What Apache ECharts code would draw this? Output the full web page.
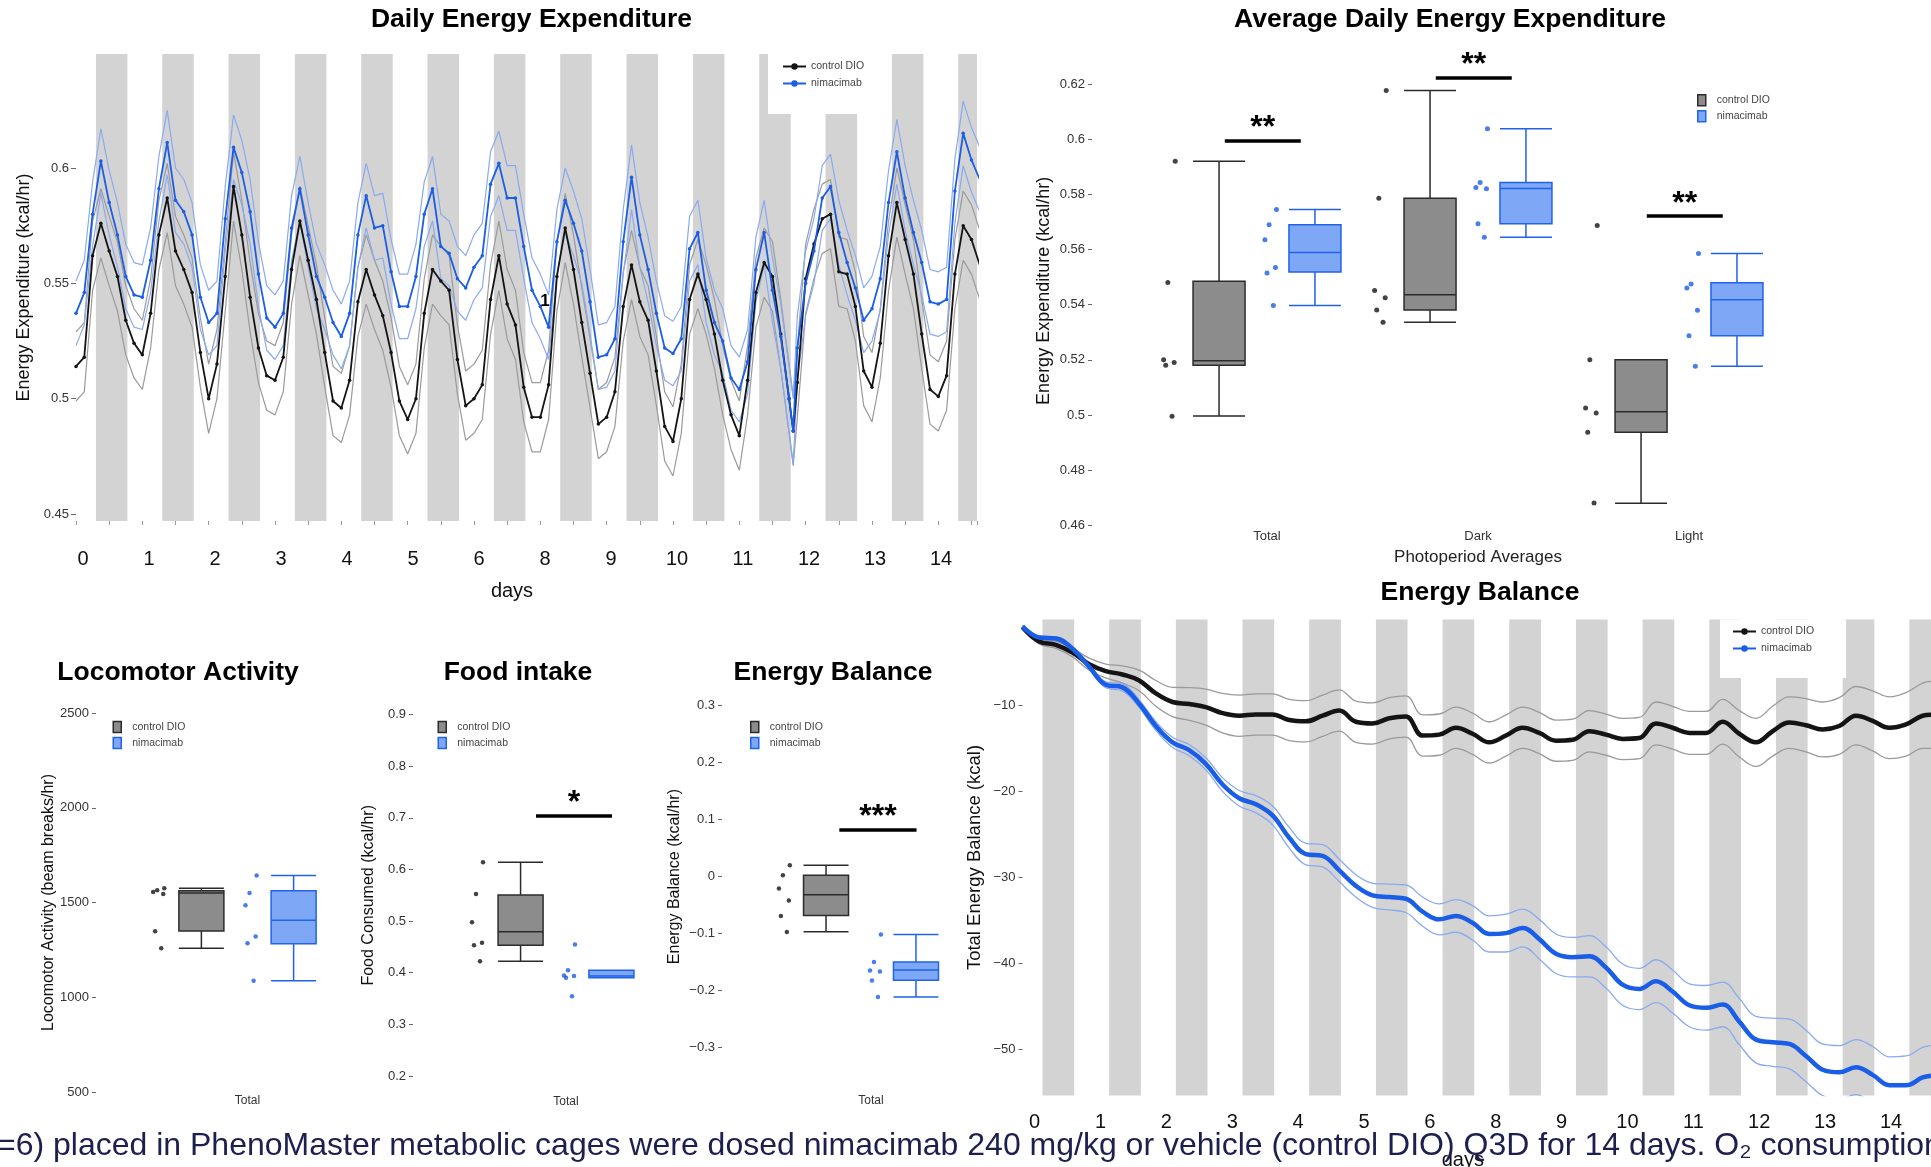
<!DOCTYPE html>
<html>
<head>
<meta charset="utf-8">
<title>nimacimab - energy expenditure, intake and balance</title>
<script src="https://cdn.jsdelivr.net/npm/echarts@6.0.0/dist/echarts.min.js"></script>
<style>
  html, body { margin: 0; padding: 0; background: #fff; }
  #chart { width: 1931px; height: 1167px; }
</style>
</head>
<body>
<div id="chart"></div>
<script>
var FONT = "'Liberation Sans', Arial, Helvetica, sans-serif";

// ---------- Daily energy expenditure (kcal/hr), 3-hourly readings ----------
var eeHours = [];
for (var h = 0; h <= 327; h += 3) {
  eeHours.push(h);
  if (h === 258) eeHours.push(259.5); // extra reading at the sharp dip
}
var eeCtl = [
  0.514, 0.518, 0.562, 0.576, 0.564, 0.553, 0.534, 0.524,
  0.519, 0.537, 0.571, 0.587, 0.564, 0.556, 0.546, 0.520,
  0.500, 0.515, 0.553, 0.592, 0.571, 0.544, 0.522, 0.510,
  0.508, 0.518, 0.556, 0.577, 0.560, 0.543, 0.520, 0.499,
  0.496, 0.508, 0.542, 0.556, 0.545, 0.536, 0.520, 0.499,
  0.491, 0.500, 0.537, 0.556, 0.551, 0.547, 0.517, 0.497,
  0.500, 0.506, 0.543, 0.562, 0.541, 0.532, 0.505, 0.492,
  0.492, 0.506, 0.553, 0.574, 0.556, 0.533, 0.511, 0.489,
  0.492, 0.503, 0.540, 0.558, 0.542, 0.534, 0.512, 0.488,
  0.4815, 0.500, 0.543, 0.554, 0.543, 0.528, 0.508, 0.493,
  0.484, 0.508, 0.546, 0.559, 0.553, 0.528, 0.500, 0.486, 0.507,
  0.552, 0.567, 0.578, 0.580, 0.555, 0.554, 0.540, 0.512,
  0.505, 0.524, 0.562, 0.585, 0.569, 0.554, 0.528, 0.504,
  0.501, 0.510, 0.554, 0.575, 0.569, 0.558
];
var eeNim = [
  0.537, 0.546, 0.580, 0.603, 0.585, 0.571, 0.553, 0.545,
  0.544, 0.560, 0.591, 0.611, 0.586, 0.581, 0.571, 0.544,
  0.533, 0.537, 0.578, 0.609, 0.598, 0.581, 0.554, 0.535,
  0.531, 0.537, 0.574, 0.591, 0.571, 0.553, 0.544, 0.533,
  0.527, 0.537, 0.571, 0.588, 0.574, 0.575, 0.555, 0.540,
  0.540, 0.553, 0.580, 0.591, 0.566, 0.563, 0.552, 0.548,
  0.557, 0.562, 0.593, 0.602, 0.587, 0.587, 0.566, 0.547,
  0.540, 0.531, 0.568, 0.586, 0.576, 0.564, 0.542, 0.518,
  0.519, 0.526, 0.568, 0.596, 0.571, 0.556, 0.537, 0.522,
  0.5196, 0.526, 0.565, 0.572, 0.547, 0.533, 0.525, 0.509,
  0.504, 0.516, 0.556, 0.572, 0.547, 0.527, 0.500, 0.486, 0.522,
  0.550, 0.564, 0.587, 0.592, 0.572, 0.559, 0.548, 0.534,
  0.539, 0.552, 0.585, 0.607, 0.587, 0.572, 0.559, 0.542,
  0.541, 0.543, 0.590, 0.615, 0.6035, 0.595
];
var eeSemCtl = 0.015;
var eeSemNim = 0.014;
var eeTicks = [0.45, 0.5, 0.55, 0.6];

// ---------- Cumulative energy balance (kcal), 6-hourly ----------
var cumHours = [];
for (var h2 = 0; h2 <= 324; h2 += 6) cumHours.push(h2);
cumHours.push(327);
var cumCtl = [
  -0.9, -2.55, -2.95, -3.85, -5.2, -6.0, -6.4, -7.1, -8.6, -9.6,
  -9.83, -10.2, -10.9, -11.2, -11.05, -11.05, -11.7, -11.85, -11.2, -10.6,
  -11.9, -12.1, -11.5, -11.3, -13.5, -13.4, -12.6, -13.3, -14.3, -13.5,
  -12.6, -13.2, -14.1, -14.0, -13.0, -13.4, -13.9, -13.8, -12.1, -12.6,
  -13.2, -13.2, -11.9, -13.3, -14.3, -13.0, -12.0, -12.3, -12.8, -12.4,
  -11.2, -11.8, -12.6, -12.2, -11.2, -11.1
];
var cumNim = [
  -0.8, -2.1, -2.2, -3.4, -5.5, -7.6, -7.9, -9.8, -12.4, -14.3,
  -15.2, -16.8, -19.2, -20.8, -21.5, -22.8, -25.4, -27.3, -27.5, -29.2,
  -31.0, -32.1, -32.3, -32.5, -34.0, -34.9, -34.5, -35.3, -36.6, -36.5,
  -35.9, -37.2, -38.9, -39.3, -39.2, -40.5, -42.5, -43.0, -42.1, -43.3,
  -44.9, -45.2, -44.8, -46.8, -48.9, -49.2, -49.4, -50.8, -52.4, -52.7,
  -52.1, -53.0, -54.2, -54.2, -53.3, -53.1
];
var cumSemCtl = [
  0.2, 0.3, 0.4, 0.5, 0.7, 0.8, 1.0, 1.2, 1.5, 1.7,
  1.9, 2.1, 2.3, 2.4, 2.4, 2.4, 2.4, 2.4, 2.4, 2.4,
  2.4, 2.4, 2.4, 2.4, 2.4, 2.4, 2.4, 2.4, 2.4, 2.4,
  2.4, 2.4, 2.4, 2.4, 2.4, 2.4, 2.4, 2.4, 2.5, 2.5,
  2.5, 2.5, 2.6, 2.7, 2.8, 2.9, 3.0, 3.1, 3.2, 3.3,
  3.4, 3.5, 3.6, 3.7, 3.8, 3.9
];
var cumSemNim = [
  0.1, 0.15, 0.2, 0.25, 0.3, 0.35, 0.4, 0.45, 0.5, 0.6,
  0.65, 0.7, 0.8, 0.9, 1.0, 1.1, 1.2, 1.25, 1.3, 1.3,
  1.3, 1.4, 1.5, 1.6, 1.7, 1.8, 1.9, 2.0, 2.1, 2.2,
  2.2, 2.3, 2.3, 2.3, 2.4, 2.4, 2.4, 2.4, 2.5, 2.5,
  2.5, 2.6, 2.6, 2.7, 2.7, 2.8, 2.9, 3.0, 3.0, 3.1,
  3.2, 3.3, 3.3, 3.4, 3.5, 3.5
];
var cumTicks = [-50, -40, -30, -20, -10];

// day numbers printed under both time plots (no 7 in the original)
var dayLabels = ['0', '1', '2', '3', '4', '5', '6', '8', '9', '10', '11', '12', '13', '14'];
// dark phase, hours into each day
var darkOn = 7.2;
var darkOff = 18.6;

// ---------- Average daily EE by photoperiod ----------
var periodCats = ['Total', 'Dark', 'Light'];
var avgCtlTotal = [0.592, 0.548, 0.520, 0.519, 0.518, 0.4995];
var avgCtlDark = [0.6176, 0.5786, 0.5451, 0.5425, 0.5381, 0.5336];
var avgCtlLight = [0.5687, 0.5200, 0.5025, 0.5007, 0.4937, 0.4681];
var avgNimTotal = [0.5745, 0.5690, 0.5635, 0.5535, 0.5515, 0.5397];
var avgNimDark = [0.6038, 0.5843, 0.5825, 0.5820, 0.5693, 0.5644];
var avgNimLight = [0.5585, 0.5475, 0.5460, 0.5380, 0.5287, 0.5177];
// [min, Q1, median, Q3, max]
var avgCtlBox = [[0.4996, 0.518, 0.5197, 0.5485, 0.592], [0.5336, 0.5381, 0.5436, 0.5786, 0.6176], [0.468, 0.4937, 0.5012, 0.52, 0.52]];
var avgNimBox = [[0.5397, 0.5518, 0.5589, 0.569, 0.5745], [0.5644, 0.5693, 0.5821, 0.5843, 0.6038], [0.5177, 0.5287, 0.5418, 0.5479, 0.5585]];
var avgSigY = [0.5995, 0.6223, 0.5722];
var avgTicks = [0.46, 0.48, 0.5, 0.52, 0.54, 0.56, 0.58, 0.6, 0.62];

// ---------- Totals: locomotor, food intake, energy balance ----------
var locoCtl = [1575, 1565, 1555, 1545, 1348, 1258];
var locoNim = [1643, 1550, 1485, 1320, 1285, 1087];
var locoCtlBox = [1258, 1350, 1550, 1562, 1575];
var locoNimBox = [1087, 1282, 1406, 1562, 1643];

var foodCtl = [0.614, 0.5525, 0.4976, 0.458, 0.4533, 0.4221];
var foodNim = [0.4548, 0.4046, 0.3945, 0.3935, 0.3903, 0.3545];
var foodCtlBox = [0.4221, 0.4533, 0.4793, 0.5508, 0.6138];
var foodNimBox = [0.3903, 0.3903, 0.3938, 0.4046, 0.4046];
var foodSigY = [0.7047];

var ebCtl = [0.02, 0.0023, -0.0208, -0.042, -0.069, -0.097];
var ebNim = [-0.1017, -0.1498, -0.1645, -0.1665, -0.182, -0.2112];
var ebCtlBox = [-0.0968, -0.0684, -0.0319, 0.0023, 0.02];
var ebNimBox = [-0.2112, -0.1817, -0.1639, -0.1498, -0.1017];
var ebSigY = [0.083];

// ---------- styles ----------
var C_CTL = '#141414', C_CTL_SEM = '#9a9a9a';
var C_NIM = '#1a5de6', C_NIM_SEM = '#89aaf0';
var C_BAND = '#d3d3d3';
var BOX_CTL = { color: '#8c8c8c', borderColor: '#2b2b2b', borderWidth: 1.5 };
var BOX_NIM = { color: '#7ea8f6', borderColor: '#2163e8', borderWidth: 1.5 };
var jitter = [0.025, -0.01, -0.03, 0.02, -0.02, 0.01];

function pairs(xs, ys) {
  return xs.map(function (x, i) { return [x, ys[i]]; });
}
function offsetBy(ys, sem, sign) {
  return ys.map(function (v, i) {
    var s = Array.isArray(sem) ? sem[i] : sem;
    return +(v + sign * s).toFixed(4);
  });
}
function darkAreas(maxH) {
  var out = [];
  for (var k = 0; k * 24 + darkOn < maxH; k++) {
    out.push([{ xAxis: k * 24 + darkOn }, { xAxis: Math.min(k * 24 + darkOff, maxH) }]);
  }
  return out;
}
function fmt(v) {
  return String(+(+v).toFixed(3)).replace('-', '\u2212');
}

function bandSeries(xIdx, yIdx, maxH) {
  return {
    type: 'line', name: 'dark phase', xAxisIndex: xIdx, yAxisIndex: yIdx, data: [], z: 1, silent: true,
    markArea: { silent: true, itemStyle: { color: C_BAND }, data: darkAreas(maxH) }
  };
}
function traceSeries(name, xIdx, yIdx, data, color, width, dots, z, smooth) {
  return {
    type: 'line', name: name, xAxisIndex: xIdx, yAxisIndex: yIdx, data: data, z: z, silent: true,
    smooth: smooth || false,
    symbol: dots ? 'circle' : 'none', symbolSize: dots ? 3.5 : 0, showSymbol: !!dots,
    itemStyle: { color: color }, lineStyle: { color: color, width: width }
  };
}
function boxSeries(name, xIdx, yIdx, data, style, w) {
  return {
    type: 'boxplot', name: name, xAxisIndex: xIdx, yAxisIndex: yIdx, data: data,
    boxWidth: [w, w], itemStyle: style, silent: true, z: 3
  };
}
function stripSeries(name, xIdx, yIdx, groups, base, color, size, sig) {
  var pts = [];
  groups.forEach(function (vals, c) {
    vals.forEach(function (v, i) { pts.push([c + base + jitter[i], v]); });
  });
  var s = {
    type: 'scatter', name: name, xAxisIndex: xIdx, yAxisIndex: yIdx, data: pts,
    symbolSize: size, itemStyle: { color: color }, silent: true, z: 4
  };
  if (sig) {
    s.markLine = {
      silent: true, symbol: ['none', 'none'], emphasis: { disabled: true },
      lineStyle: { color: '#000', width: 3.5, type: 'solid' },
      label: {
        show: true, position: 'insideMiddleTop', distance: -4, formatter: sig.text,
        fontSize: 32, fontWeight: 'bold', color: '#000', fontFamily: FONT
      },
      data: sig.ys.map(function (y, c) {
        return [{ coord: [c + sig.from, y] }, { coord: [c + sig.to, y] }];
      })
    };
  }
  return s;
}

function valueY(grid, opt) {
  var a = {
    gridIndex: grid, type: 'value', splitLine: { show: false },
    axisLine: { show: false, onZero: false },
    axisTick: { show: true, length: 4, lineStyle: { color: '#666' } },
    axisLabel: { margin: 7, fontSize: 13, color: '#333', fontFamily: FONT, formatter: fmt },
    nameLocation: 'middle', nameTextStyle: { fontSize: 16, color: '#111', fontFamily: FONT }
  };
  for (var k in opt) a[k] = opt[k];
  return a;
}
function totalX(grid, margin) {
  return {
    gridIndex: grid, type: 'category', data: ['Total'],
    axisLine: { show: false, onZero: false }, axisTick: { show: false },
    axisLabel: { margin: margin, fontSize: 12, color: '#333', fontFamily: FONT }
  };
}
function hiddenX(grid, max) {
  return { gridIndex: grid, type: 'value', min: -0.5, max: max, show: false, axisLine: { onZero: false } };
}
function dayAxis(grid, gap) {
  return {
    gridIndex: grid, type: 'category', data: dayLabels, boundaryGap: false,
    axisLine: { show: false, onZero: false }, axisTick: { show: false },
    axisLabel: { interval: 0, margin: 5, fontSize: 20, color: '#111', fontFamily: FONT },
    name: 'days', nameLocation: 'middle', nameGap: gap,
    nameTextStyle: { fontSize: 20, color: '#111', fontFamily: FONT }
  };
}
function lineLegend(left, top, pad) {
  return {
    left: left, top: top, orient: 'vertical', padding: pad, backgroundColor: '#fff',
    itemWidth: 23, itemHeight: 8, itemGap: 6, selectedMode: false,
    textStyle: { fontSize: 10.5, color: '#444', fontFamily: FONT },
    data: ['control DIO', 'nimacimab']
  };
}
function boxLegend(left, top) {
  return {
    left: left, top: top, orient: 'vertical', padding: 0,
    itemWidth: 8, itemHeight: 11, itemGap: 3.5, selectedMode: false,
    textStyle: { fontSize: 10.5, color: '#444', fontFamily: FONT, padding: [0, 0, 0, 6] },
    data: [
      { name: 'control DIO', icon: 'rect', itemStyle: BOX_CTL },
      { name: 'nimacimab', icon: 'rect', itemStyle: BOX_NIM }
    ]
  };
}
function txt(text, x, y, size, bold, extra) {
  var e = {
    type: 'text', x: x, y: y, silent: true, z: 50,
    style: {
      text: text, fontSize: size, fontWeight: bold ? 'bold' : 'normal', fontFamily: FONT,
      fill: '#000', align: 'center', verticalAlign: 'middle',
      textAlign: 'center', textVerticalAlign: 'middle'
    }
  };
  if (extra) for (var k in extra) e.style[k] = extra[k];
  return e;
}

var grids = [
  { left: 76, top: 54, width: 901, height: 467 },          // 0 daily EE
  { left: 83, top: 540, width: 858, height: 4 },            // 1 day numbers
  { left: 1161.5, top: 56.4, width: 633, height: 468.9 },  // 2 photoperiod averages
  { left: 146, top: 713, width: 203, height: 379 },         // 3 locomotor
  { left: 466, top: 714.6, width: 200, height: 361.4 },     // 4 food intake
  { left: 772, top: 705.5, width: 198, height: 342.2 },     // 5 energy balance rate
  { left: 1022.5, top: 619.5, width: 908.5, height: 476 },  // 6 cumulative balance
  { left: 1034.6, top: 1103, width: 856.4, height: 4 }      // 7 day numbers
].map(function (g) { g.outerBoundsMode = 'none'; g.containLabel = false; return g; });

var option = {
  animation: false,
  backgroundColor: '#fff',
  textStyle: { fontFamily: FONT },
  grid: grids,
  xAxis: [
    {
      gridIndex: 0, type: 'value', min: 0, max: 326, interval: 12, splitLine: { show: false },
      axisLine: { show: false, onZero: false }, axisLabel: { show: false },
      axisTick: { show: true, length: 4, lineStyle: { color: '#9a9a9a' } }
    },
    dayAxis(1, 37),
    {
      gridIndex: 2, type: 'category', data: periodCats,
      axisLine: { show: false, onZero: false }, axisTick: { show: false },
      axisLabel: { margin: 5, fontSize: 13, color: '#333', fontFamily: FONT },
      name: 'Photoperiod Averages', nameLocation: 'middle', nameGap: 24,
      nameTextStyle: { fontSize: 17, color: '#222', fontFamily: FONT }
    },
    hiddenX(2, 2.5),
    totalX(3, 3), hiddenX(3, 0.5),
    totalX(4, 20), hiddenX(4, 0.5),
    totalX(5, 47), hiddenX(5, 0.5),
    { gridIndex: 6, type: 'value', min: 0, max: 327, show: false, axisLine: { onZero: false } },
    dayAxis(7, 43)
  ],
  yAxis: [
    valueY(0, {
      min: 0.447, max: 0.6494,
      axisTick: { show: true, length: 5, customValues: eeTicks, lineStyle: { color: '#666' } },
      axisLabel: { customValues: eeTicks, margin: 7, fontSize: 13, color: '#333', fontFamily: FONT, formatter: fmt },
      name: 'Energy Expenditure (kcal/hr)', nameGap: 43,
      nameTextStyle: { fontSize: 18, color: '#111', fontFamily: FONT }
    }),
    { gridIndex: 1, type: 'value', show: false, axisLine: { onZero: false } },
    valueY(2, {
      min: 0.46, max: 0.63, offset: 69.5,
      axisTick: { show: true, length: 4, customValues: avgTicks, lineStyle: { color: '#666' } },
      axisLabel: { customValues: avgTicks, margin: 7, fontSize: 13, color: '#333', fontFamily: FONT, formatter: fmt },
      name: 'Energy Expenditure (kcal/hr)', nameGap: 39,
      nameTextStyle: { fontSize: 18, color: '#111', fontFamily: FONT }
    }),
    valueY(3, { min: 500, max: 2500, interval: 500, offset: 50, name: 'Locomotor Activity (beam breaks/hr)', nameGap: 38 }),
    valueY(4, { min: 0.2, max: 0.9, interval: 0.1, offset: 53, name: 'Food Consumed (kcal/hr)', nameGap: 36 }),
    valueY(5, { min: -0.3, max: 0.3, interval: 0.1, offset: 50, name: 'Energy Balance (kcal/hr)', nameGap: 39 }),
    valueY(6, {
      min: -55.4, max: 0,
      axisTick: { show: true, length: 4, customValues: cumTicks, lineStyle: { color: '#666' } },
      axisLabel: { customValues: cumTicks, margin: 7, fontSize: 13, color: '#333', fontFamily: FONT, formatter: fmt },
      name: 'Total Energy Balance (kcal)', nameGap: 38,
      nameTextStyle: { fontSize: 18.5, color: '#111', fontFamily: FONT }
    }),
    { gridIndex: 7, type: 'value', show: false, axisLine: { onZero: false } }
  ],
  legend: [
    lineLegend(768, 54, [7, 12, 25, 14]),
    lineLegend(1720, 619.5, [6.5, 32, 24, 12]),
    boxLegend(1697, 94),
    boxLegend(112.5, 720.7),
    boxLegend(437.5, 720.7),
    boxLegend(750, 720.7)
  ],
  series: [
    // daily energy expenditure
    traceSeries('control DIO', 0, 0, pairs(eeHours, eeCtl), C_CTL, 1.8, true, 5),
    traceSeries('nimacimab', 0, 0, pairs(eeHours, eeNim), C_NIM, 1.8, true, 6),
    bandSeries(0, 0, 326),
    traceSeries('control DIO +SEM', 0, 0, pairs(eeHours, offsetBy(eeCtl, eeSemCtl, 1)), C_CTL_SEM, 1.2, false, 3),
    traceSeries('control DIO -SEM', 0, 0, pairs(eeHours, offsetBy(eeCtl, eeSemCtl, -1)), C_CTL_SEM, 1.2, false, 3),
    traceSeries('nimacimab +SEM', 0, 0, pairs(eeHours, offsetBy(eeNim, eeSemNim, 1)), C_NIM_SEM, 1.2, false, 4),
    traceSeries('nimacimab -SEM', 0, 0, pairs(eeHours, offsetBy(eeNim, eeSemNim, -1)), C_NIM_SEM, 1.2, false, 4),

    // cumulative energy balance
    bandSeries(10, 6, 327),
    traceSeries('control DIO +SEM ', 10, 6, pairs(cumHours, offsetBy(cumCtl, cumSemCtl, 1)), C_CTL_SEM, 1.3, false, 3, 0.4),
    traceSeries('control DIO -SEM ', 10, 6, pairs(cumHours, offsetBy(cumCtl, cumSemCtl, -1)), C_CTL_SEM, 1.3, false, 3, 0.4),
    traceSeries('nimacimab +SEM ', 10, 6, pairs(cumHours, offsetBy(cumNim, cumSemNim, 1)), C_NIM_SEM, 1.3, false, 4, 0.4),
    traceSeries('nimacimab -SEM ', 10, 6, pairs(cumHours, offsetBy(cumNim, cumSemNim, -1)), C_NIM_SEM, 1.3, false, 4, 0.4),
    traceSeries('control DIO', 10, 6, pairs(cumHours, cumCtl), C_CTL, 4.5, false, 5, 0.4),
    traceSeries('nimacimab', 10, 6, pairs(cumHours, cumNim), C_NIM, 4.5, false, 6, 0.4),

    // photoperiod averages
    boxSeries('control DIO', 2, 2, avgCtlBox, BOX_CTL, 52),
    boxSeries('nimacimab', 2, 2, avgNimBox, BOX_NIM, 52),
    stripSeries('control DIO points', 3, 2, [avgCtlTotal, avgCtlDark, avgCtlLight], -0.46, C_CTL, 5,
      { ys: avgSigY, text: '**', from: -0.2, to: 0.16 }),
    stripSeries('nimacimab points', 3, 2, [avgNimTotal, avgNimDark, avgNimLight], 0.02, C_NIM, 5),

    // locomotor activity
    boxSeries('control DIO', 4, 3, [locoCtlBox], BOX_CTL, 45),
    boxSeries('nimacimab', 4, 3, [locoNimBox], BOX_NIM, 45),
    stripSeries('control DIO points', 5, 3, [locoCtl], -0.435, C_CTL, 4.5),
    stripSeries('nimacimab points', 5, 3, [locoNim], 0.02, C_NIM, 4.5),

    // food intake
    boxSeries('control DIO', 6, 4, [foodCtlBox], BOX_CTL, 45),
    boxSeries('nimacimab', 6, 4, [foodNimBox], BOX_NIM, 45),
    stripSeries('control DIO points', 7, 4, [foodCtl], -0.44, C_CTL, 4.5,
      { ys: foodSigY, text: '*', from: -0.15, to: 0.23 }),
    stripSeries('nimacimab points', 7, 4, [foodNim], 0.02, C_NIM, 4.5),

    // energy balance rate
    boxSeries('control DIO', 8, 5, [ebCtlBox], BOX_CTL, 45),
    boxSeries('nimacimab', 8, 5, [ebNimBox], BOX_NIM, 45),
    stripSeries('control DIO points', 9, 5, [ebCtl], -0.435, C_CTL, 4.5,
      { ys: ebSigY, text: '***', from: -0.16, to: 0.23 }),
    stripSeries('nimacimab points', 9, 5, [ebNim], 0.025, C_NIM, 4.5)
  ],
  graphic: {
    elements: [
      txt('Daily Energy Expenditure', 531.5, 20, 26.5, true),
      txt('Average Daily Energy Expenditure', 1450, 20, 26.5, true),
      txt('Energy Balance', 1480, 593, 26.5, true),
      txt('Locomotor Activity', 178, 673, 26.5, true),
      txt('Food intake', 518, 673, 26.5, true),
      txt('Energy Balance', 833, 673, 26.5, true),
      txt('1', 545, 301, 17, true),
      txt('=6) placed in PhenoMaster metabolic cages were dosed nimacimab 240 mg/kg or vehicle (control DIO) Q3D for 14 days. O\u2082 consumption',
        -3, 1146, 32, false,
        { fill: '#1d1f4f', align: 'left', textAlign: 'left' })
    ]
  }
};

var chart = echarts.init(document.getElementById('chart'), null, { renderer: 'canvas' });
chart.setOption(option);
</script>
</body>
</html>
